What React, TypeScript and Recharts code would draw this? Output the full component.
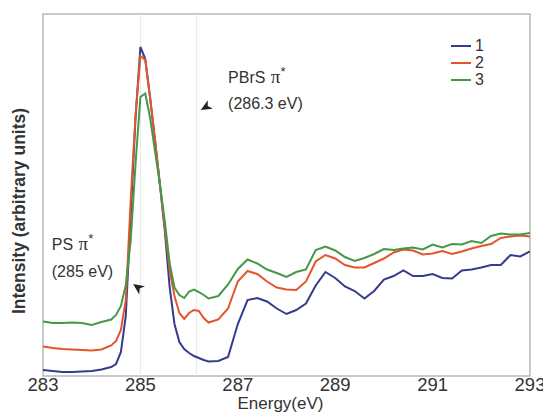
import {
  LineChart,
  Line,
  XAxis,
  YAxis,
  ReferenceLine,
  ReferenceArea,
  ReferenceDot,
} from 'recharts';

// photon energy (eV)
const energy = [
  283.0, 283.2, 283.4, 283.6, 283.8, 284.0, 284.2, 284.4,
  284.5, 284.6, 284.7, 284.8, 284.9, 285.0, 285.1, 285.2, 285.3, 285.4, 285.5, 285.6,
  285.7, 285.8, 285.9, 286.0, 286.1, 286.2, 286.3, 286.4,
  286.6, 286.8, 287.0, 287.2, 287.4, 287.6, 287.8, 288.0, 288.2, 288.4, 288.6, 288.8,
  289.0, 289.2, 289.4, 289.6, 289.8, 290.0, 290.2, 290.4, 290.6, 290.8, 291.0, 291.2,
  291.4, 291.6, 291.8, 292.0, 292.2, 292.4, 292.6, 292.8, 293.0,
];

// intensity, arbitrary units
const series1 = [
  6, 5, 4, 4, 4.5, 5, 6.5, 9,
  12, 24, 60, 160, 258, 329, 317, 278, 236, 192, 146, 89,
  52, 34, 27, 23, 20, 18, 16, 14.5,
  15, 19, 52, 76, 78, 74.5, 67.5, 62, 66, 72.5, 90.5, 104,
  98, 89.5, 85, 77.5, 85, 96.5, 100, 105.5, 100, 100, 102, 98,
  97.5, 105.5, 106.5, 108.5, 111, 111, 121, 119.5, 124.5,
];

const series2 = [
  29.5, 28, 27, 26.5, 26, 25.5, 26.5, 30.5,
  35, 46, 76, 175, 261, 320, 316, 278, 236, 192, 148, 106,
  80, 63, 57, 63, 66, 65, 58, 53.5,
  56.5, 67.5, 94.5, 105, 102, 94.5, 88.5, 86.5, 86, 94.5, 114.5, 121,
  117.5, 111, 108.5, 108.5, 113, 117.5, 123.5, 126.5, 125.5, 121.5, 122.5, 125,
  122, 124.5, 127.5, 130, 132, 138, 139.5, 140.5, 139.5,
];

const series3 = [
  54.5, 53, 53, 53.5, 53, 51, 54, 56.5,
  61, 70, 91, 135, 212, 279, 282.5, 258, 225, 192, 155, 113,
  88.5, 81, 78, 84.5, 86.5, 84, 81, 77.5,
  80, 91.5, 107, 116.5, 112.5, 106.5, 103, 99, 104, 106.5, 126, 129.5,
  125.5, 119, 115, 118, 122, 127, 126, 127.5, 128.5, 126.5, 131.5, 128.5,
  132, 131.5, 135, 133, 140, 142.5, 141.5, 141.5, 143,
];

const xTicks = [283, 285, 287, 289, 291, 293];
const seriesNames = ['1', '2', '3'];
const seriesKeys = ['s1', 's2', 's3'];
const colors = ['#363b8c', '#e5552b', '#43984a'];

const data = energy.map((e, i) => ({
  energy: e,
  s1: series1[i],
  s2: series2[i],
  s3: series3[i],
}));

const FONT = '"Liberation Sans", Arial, sans-serif';
const SERIF = '"Liberation Serif", "DejaVu Serif", serif';

const Arrowhead = ({ cx, cy, angle }: any) => (
  <path
    d="M0,0 L11,-5 L8,0 L11,5 Z"
    fill="#222"
    transform={`translate(${cx},${cy}) rotate(${angle})`}
  />
);

const Note = ({ cx, cy, main, pi }: any) => (
  <text x={cx} y={cy} fontFamily={FONT} fontSize={16} fill="#333">
    {main}
    {pi && (
      <>
        <tspan fontFamily={SERIF} fontSize={19} dx={1}>
          π
        </tspan>
        <tspan fontSize={13} dy={-7}>
          *
        </tspan>
      </>
    )}
  </text>
);

const YLabel = ({ viewBox }: any) => {
  const x = viewBox.x + 17;
  const y = viewBox.y + viewBox.height / 2 + 16;
  return (
    <text
      x={x}
      y={y}
      transform={`rotate(-90, ${x}, ${y})`}
      textAnchor="middle"
      fontFamily={FONT}
      fontSize={17.5}
      fontWeight="bold"
      fill="#333"
    >
      Intensity (arbitrary units)
    </text>
  );
};

const XLabel = ({ viewBox }: any) => (
  <text
    x={viewBox.x + viewBox.width / 2 - 6}
    y={viewBox.y + 33}
    textAnchor="middle"
    fontFamily={FONT}
    fontSize={17}
    fill="#333"
  >
    Energy(eV)
  </text>
);

export default function App() {
  return (
    <div style={{ position: 'relative', width: 543, height: 410 }}>
      <LineChart
        width={543}
        height={410}
        data={data}
        margin={{ top: 6, right: 21, bottom: 0, left: 0 }}
      >
        <XAxis
          dataKey="energy"
          type="number"
          domain={[283, 293]}
          ticks={xTicks}
          allowDataOverflow
          height={42}
          tickLine={false}
          axisLine={false}
          tickSize={0}
          tickMargin={2}
          tick={{ fontSize: 18.5, fill: '#333', fontFamily: FONT }}
          label={<XLabel />}
        />
        <YAxis
          type="number"
          domain={[0, 362]}
          width={35}
          tick={false}
          tickLine={false}
          axisLine={false}
          label={<YLabel />}
        />
        <ReferenceArea
          x1={283}
          x2={293}
          y1={0}
          y2={362}
          fill="none"
          stroke="#b8b8b8"
          strokeWidth={1.5}
        />
        <ReferenceLine x={285} stroke="#e6e6e6" />
        <ReferenceLine x={286.15} stroke="#e6e6e6" />
        {seriesKeys.map((k, i) => (
          <Line
            key={k}
            dataKey={k}
            name={seriesNames[i]}
            type="linear"
            stroke={colors[i]}
            strokeWidth={2}
            dot={false}
            isAnimationActive={false}
          />
        ))}
        <ReferenceDot
          x={286.24}
          y={266}
          ifOverflow="visible"
          shape={(p: any) => <Arrowhead {...p} angle={-30} />}
        />
        <ReferenceDot
          x={284.85}
          y={92}
          ifOverflow="visible"
          shape={(p: any) => <Arrowhead {...p} angle={35} />}
        />
        <ReferenceDot
          x={286.8}
          y={293}
          ifOverflow="visible"
          shape={(p: any) => <Note {...p} main="PBrS " pi />}
        />
        <ReferenceDot
          x={286.8}
          y={267}
          ifOverflow="visible"
          shape={(p: any) => <Note {...p} main="(286.3 eV)" />}
        />
        <ReferenceDot
          x={283.18}
          y={126}
          ifOverflow="visible"
          shape={(p: any) => <Note {...p} main="PS " pi />}
        />
        <ReferenceDot
          x={283.18}
          y={99}
          ifOverflow="visible"
          shape={(p: any) => <Note {...p} main="(285 eV)" />}
        />
      </LineChart>
      <div
        style={{
          position: 'absolute',
          left: 443,
          top: 29,
          fontFamily: FONT,
          fontSize: 16,
          color: '#333',
          lineHeight: '17px',
        }}
      >
        {seriesNames.map((n, i) => (
          <div key={n} style={{ display: 'flex', alignItems: 'center', height: 17 }}>
            <span
              style={{
                display: 'inline-block',
                width: 20,
                height: 2,
                background: colors[i],
                marginRight: 4,
              }}
            />
            {n}
          </div>
        ))}
      </div>
    </div>
  );
}
